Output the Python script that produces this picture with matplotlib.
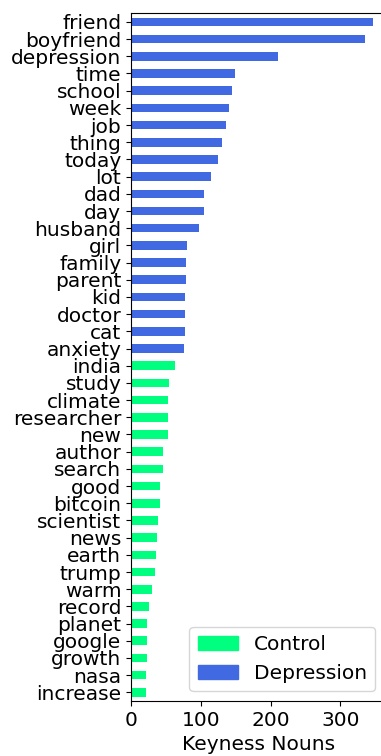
import numpy as np
import matplotlib.pyplot as plt
from matplotlib.patches import Patch

depression_words = ['friend', 'boyfriend', 'depression', 'time', 'school', 'week', 'job',
                    'thing', 'today', 'lot', 'dad', 'day', 'husband', 'girl', 'family',
                    'parent', 'kid', 'doctor', 'cat', 'anxiety']
depression_keyness = [347, 335, 210, 149, 145, 140.5, 136, 131, 125, 114.5, 104, 104, 98,
                      80, 78.5, 78.5, 77, 77, 77, 75.5]

control_words = ['india', 'study', 'climate', 'researcher', 'new', 'author', 'search', 'good',
                 'bitcoin', 'scientist', 'news', 'earth', 'trump', 'warm', 'record', 'planet',
                 'google', 'growth', 'nasa', 'increase']
control_keyness = [63, 54, 52.5, 52.5, 52.5, 46.5, 46.5, 42, 41, 39, 37.5, 36, 34.5, 30, 26,
                   22.5, 22.5, 22.5, 21, 21]

depression_color = 'royalblue'
control_color = 'springgreen'


def plot_keyness():
    words = depression_words + control_words
    values = np.array(depression_keyness + control_keyness)
    colors = [depression_color] * len(depression_words) + [control_color] * len(control_words)

    # first word on top, like a pandas barh of an ascending series
    ypos = np.arange(len(words))[::-1]

    fig = plt.figure(figsize=(3.81, 7.56), dpi=100)
    ax = fig.add_axes([0.344, 0.0728, 0.667, 0.9096])
    ax.barh(ypos, values, height=0.5, color=colors)
    ax.set_ylim(-0.5, len(words) - 0.5)
    ax.set_yticks(ypos)
    ax.set_yticklabels(words, fontsize=14.5)
    ax.set_xticks([0, 100, 200, 300])
    ax.tick_params(axis='x', labelsize=14.5)
    ax.set_xlabel('Keyness Nouns', fontsize=14.5)
    ax.spines['right'].set_visible(False)  # cropped off in the original

    handles = [Patch(color=control_color, label='Control'),
               Patch(color=depression_color, label='Depression')]
    ax.legend(handles=handles, loc='lower right', fontsize=14.5)

    fig.savefig('out.png', dpi=100)


if __name__ == "__main__":
    plot_keyness()
